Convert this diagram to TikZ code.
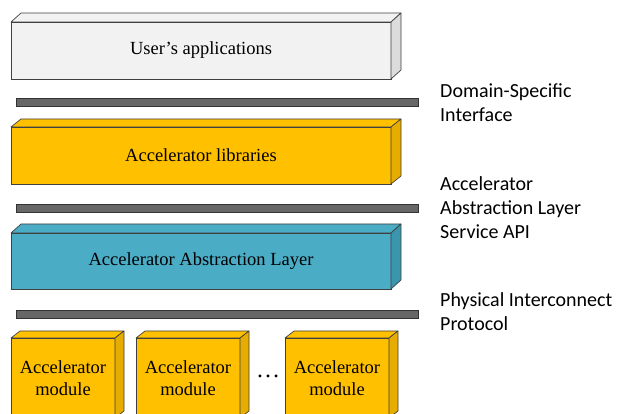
\documentclass[tikz,border=0pt]{standalone}
\usepackage{fontspec}
\setmainfont{Liberation Serif}
\newfontfamily\labelfont{Carlito}
\usetikzlibrary{calc}
\definecolor{appfill}{HTML}{F2F2F2}
\definecolor{appside}{HTML}{DCDCDC}
\definecolor{libfill}{HTML}{FFC000}
\definecolor{libside}{HTML}{E6AC00}
\definecolor{aalfill}{HTML}{4BACC6}
\definecolor{aalside}{HTML}{3B95AD}
\definecolor{bargray}{HTML}{676767}

\begin{document}
\begin{tikzpicture}[x=1pt,y=-1pt,
    layer/.style={draw=black!75,line width=.7pt,inner sep=0pt,outer sep=0pt,
      align=center,font=\fontsize{18.5}{21.5}\selectfont},
    edge/.style={draw=black!75,line width=.7pt,line join=round},
    bar/.style={draw=black!80,fill=bargray,line width=.7pt,inner sep=0pt,
      minimum width=402pt,minimum height=8pt},
    iface/.style={anchor=west,align=left,inner sep=0pt,
      font=\labelfont\fontsize{20}{24}\selectfont}]
  \useasboundingbox (0,0) rectangle (619,414);
  \clip (0,0) rectangle (619,414);
  % stack of layers
  \node[layer,fill=appfill,minimum width=380pt,minimum height=57pt] (apps) at (201,50.5) {User’s applications};
  \node[layer,fill=libfill,minimum width=380pt,minimum height=57pt] (libs) at (201,155.5) {Accelerator libraries};
  \node[layer,fill=aalfill,minimum width=380pt,minimum height=56pt] (aal) at (201,261) {Accelerator Abstraction Layer};
  % modules
  \node[layer,fill=libfill,minimum width=104pt,minimum height=80pt] (mod1) at (63,378) {Accelerator\\module};
  \node[layer,fill=libfill,minimum width=104pt,minimum height=80pt] (mod2) at (188,378) {Accelerator\\module};
  \node[layer,fill=libfill,minimum width=104pt,minimum height=80pt] (mod3) at (337,378) {Accelerator\\module};
  \node[font=\fontsize{24}{24}\selectfont,inner sep=0pt] (dots) at (268,376) {\dots};
  % depth faces
  \foreach \blk/\dx/\dy/\fr/\sd in {apps/10/9/appfill/appside,libs/10/8/libfill/libside,
      aal/10/9/aalfill/aalside,mod1/9/7/libfill/libside,mod2/9/7/libfill/libside,mod3/9/7/libfill/libside}{
    \draw[edge,fill=\fr] (\blk.north west) -- ++(\dx,-\dy) -- ($(\blk.north east)+(\dx,-\dy)$) -- (\blk.north east) -- cycle;
    \draw[edge,fill=\sd] (\blk.north east) -- ++(\dx,-\dy) -- ($(\blk.south east)+(\dx,-\dy)$) -- (\blk.south east) -- cycle;
  }
  % interfaces
  \node[bar] (bar1) at (217,102) {};
  \node[bar] (bar2) at (217,208) {};
  \node[bar] (bar3) at (217,314) {};
  \node[iface] (dsi) at (440,103) {Domain-Specific\\Interface};
  \node[iface] (aalapi) at (440,208) {Accelerator\\Abstraction Layer\\Service API};
  \node[iface] (pip) at (440,312) {Physical Interconnect\\Protocol};
\end{tikzpicture}
\end{document}
